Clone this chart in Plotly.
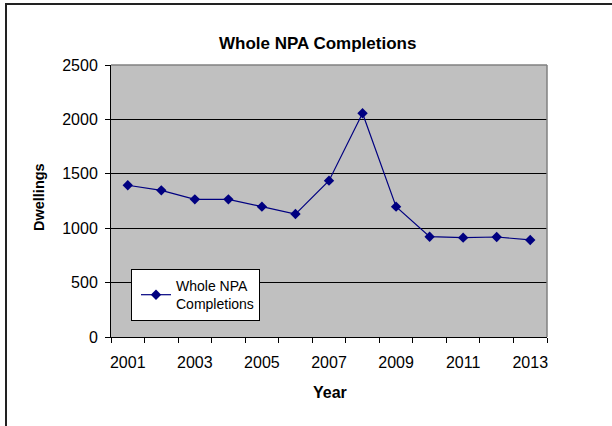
import plotly.graph_objects as go

years = [2001, 2002, 2003, 2004, 2005, 2006, 2007, 2008, 2009, 2010, 2011, 2012, 2013]
completions = [1395, 1348, 1265, 1265, 1198, 1130, 1437, 2056, 1198, 922, 913, 919, 892]
y_ticks = [0, 500, 1000, 1500, 2000, 2500]

W, H = 612, 426
L, R, T, B = 111, 65, 65, 89
pw, ph = W - L - R, H - T - B

def px(x):
    return (x - L) / pw

def py(y):
    return (H - B - y) / ph

idx = list(range(len(years)))
font = "Liberation Sans, Arial, sans-serif"

fig = go.Figure()
fig.add_trace(go.Scatter(
    x=idx, y=completions, mode="lines+markers",
    name="Whole NPA<br>Completions",
    line=dict(color="#000080", width=1.2),
    marker=dict(symbol="diamond", size=8, color="#000080"),
))

fig.update_layout(
    width=W, height=H,
    margin=dict(l=L, r=R, t=T, b=B, pad=0),
    paper_bgcolor="white", plot_bgcolor="#C0C0C0",
    font=dict(family=font, size=16, color="black"),
    showlegend=True,
    legend=dict(x=px(131), y=py(269), xanchor="left", yanchor="top",
                bgcolor="white", bordercolor="black", borderwidth=1,
                font=dict(size=14, family=font), itemwidth=30,
                indentation=4),
    xaxis=dict(range=[-0.5, len(years) - 0.5], tickmode="array",
               tickvals=idx[::2], ticktext=[str(y) for y in years[::2]],
               ticks="", showgrid=False, zeroline=False,
               showline=True, linecolor="black", linewidth=1,
               ticklabelstandoff=11,
               tickfont=dict(size=16, family=font),
               minor=dict(tickmode="array",
                          tickvals=[i - 0.5 for i in range(len(years) + 1)],
                          ticks="outside", ticklen=5, tickcolor="black",
                          showgrid=False)),
    yaxis=dict(range=[0, 2500], tickmode="array", tickvals=y_ticks,
               ticks="outside", ticklen=5, tickcolor="black",
               showgrid=True, gridcolor="black", gridwidth=1,
               zeroline=False, showline=True, linecolor="black", linewidth=1,
               ticklabelstandoff=4,
               tickfont=dict(size=16, family=font)),
    annotations=[
        dict(text="<b>Whole NPA Completions</b>", x=px(317), y=py(43),
             xref="paper", yref="paper", showarrow=False,
             font=dict(size=17, family=font), xanchor="center", yanchor="middle"),
        dict(text="<b>Year</b>", x=px(330), y=py(392),
             xref="paper", yref="paper", showarrow=False,
             font=dict(size=16, family=font), xanchor="center", yanchor="middle"),
        dict(text="<b>Dwellings</b>", x=px(39), y=py(197),
             xref="paper", yref="paper", showarrow=False, textangle=-90,
             font=dict(size=14.5, family=font), xanchor="center", yanchor="middle"),
    ],
    shapes=[
        dict(type="line", xref="paper", yref="paper", x0=0, x1=1, y0=1, y1=1,
             line=dict(color="#808080", width=1.5), layer="above"),
        dict(type="line", xref="paper", yref="paper", x0=1, x1=1, y0=0, y1=1,
             line=dict(color="#808080", width=1.5), layer="above"),
        dict(type="rect", xref="paper", yref="paper",
             x0=px(6), x1=px(630), y0=py(440), y1=py(4),
             line=dict(color="#222222", width=2), layer="above"),
    ],
)

fig.write_html("out.html",
               config={"displayModeBar": False},
               post_script="document.body.style.margin='0';document.body.style.overflow='hidden';")
